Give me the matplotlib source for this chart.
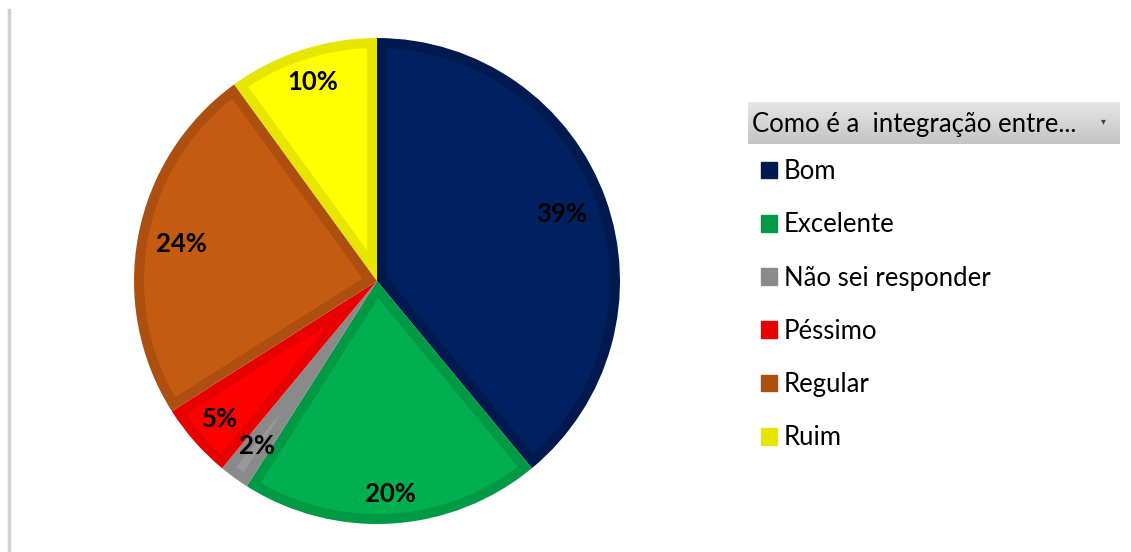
import numpy as np
import matplotlib.pyplot as plt
from matplotlib.colors import LinearSegmentedColormap
from matplotlib.patches import Patch, Polygon
from matplotlib.lines import Line2D

plt.rcParams['font.family'] = ['Lato', 'DejaVu Sans']

# data
labels = ['Bom', 'Excelente', 'Não sei responder', 'Péssimo', 'Regular', 'Ruim']
values = [39, 20, 2, 5, 24, 10]
fill_colors = ['#002060', '#00b050', '#999999', '#ff0000', '#c55a11', '#ffff00']
edge_colors = ['#001a50', '#009a46', '#8a8a8a', '#e80000', '#ad4f0f', '#e6e600']
legend_title = 'Como é a  integração entre...'
# radial position of each percentage label (fraction of radius), "best fit" look
label_radii = [0.81, 0.88, 0.84, 0.86, 0.82, 0.86]

W, H = 1131, 552
fig = plt.figure(figsize=(W / 100, H / 100), dpi=100)
fig.patch.set_facecolor('white')

# pie axes (pixel box of the pie)
ax = fig.add_axes([134 / W, (H - 524) / H, 486 / W, 486 / H])
wedges, texts, autotexts = ax.pie(
    values, colors=edge_colors, startangle=90, counterclock=False,
    autopct='%1.0f%%', pctdistance=0.85, radius=1,
    wedgeprops=dict(linewidth=0),
    textprops=dict(fontsize=18.5, fontweight='bold', color='black'))

# inner lighter fill, inset by the border width -> darker border inside each slice
d = 10 / 243
for w, fc in zip(wedges, fill_colors):
    t1, t2 = w.theta1, w.theta2
    half = np.radians(t2 - t1) / 2
    mid = np.radians(t1 + t2) / 2
    rin = w.r - d
    apex = d / np.sin(half)
    delta = np.degrees(np.arcsin(d / rin))
    ang = np.radians(np.linspace(t1 + delta, t2 - delta, 100))
    pts = [(w.center[0] + apex * np.cos(mid), w.center[1] + apex * np.sin(mid))]
    pts += list(zip(w.center[0] + rin * np.cos(ang), w.center[1] + rin * np.sin(ang)))
    inner = Polygon(pts, closed=True, facecolor=fc, edgecolor='none', zorder=w.get_zorder())
    ax.add_patch(inner)
for t, f in zip(autotexts, label_radii):
    x, y = t.get_position()
    t.set_position((x * f / 0.85, y * f / 0.85))
    t.set_zorder(5)

ax.set_xlim(-1, 1)
ax.set_ylim(-1, 1)
ax.set_aspect('equal')
ax.axis('off')

# thin gray line at left
fig.add_artist(Line2D([8.5 / W, 8.5 / W], [0, (H - 10) / H], color='#d0d0d0', lw=2.5))

# legend title box with gradient
tax = fig.add_axes([748 / W, (H - 144) / H, 372 / W, 42 / H])
grad = np.linspace(0, 1, 64).reshape(-1, 1)
tax.imshow(grad, aspect='auto', cmap=LinearSegmentedColormap.from_list('g', ['#e6e6e6', '#c4c4c4']),
           extent=[0, 1, 0, 1], origin='upper')
tax.set_xlim(0, 1)
tax.set_ylim(0, 1)
tax.axis('off')
tax.text(0.01, 0.47, legend_title, fontsize=18.5, va='center', ha='left', color='black')
tax.text(0.955, 0.55, '▾', fontsize=7, va='center', ha='center', color='#444444',
         family='DejaVu Sans')

handles = [Patch(facecolor=c, edgecolor=c) for c in edge_colors]
fig.legend(handles, labels, loc='upper left', bbox_to_anchor=(761 / W, (H - 159) / H),
           frameon=False, fontsize=18.5, handlelength=0.62, handleheight=0.62,
           handletextpad=0.27, labelspacing=1.10, borderaxespad=0, borderpad=0)

fig.savefig('out.png', dpi=100)
